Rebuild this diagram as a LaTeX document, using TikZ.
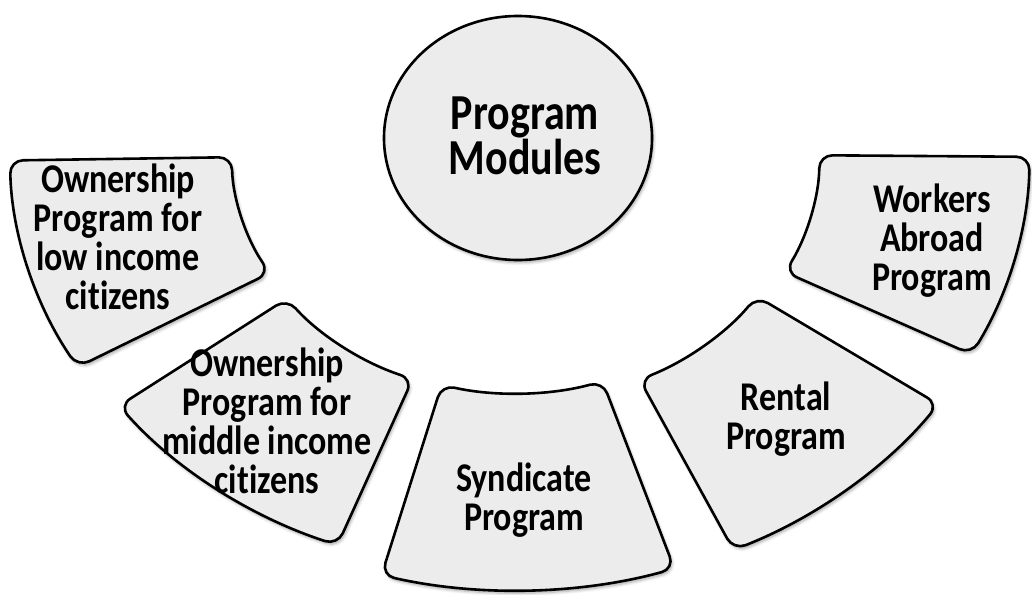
\documentclass[tikz,border=0pt]{standalone}
\usepackage{fontspec}
\setmainfont{Carlito}[Ligatures=NoCommon]
\usetikzlibrary{shadows.blur}
\definecolor{modfill}{RGB}{236,236,236}
\tikzset{
  modshape/.style={draw=black, line width=2.6pt, fill=modfill, rounded corners=13pt,
    blur shadow={shadow xshift=1.5pt, shadow yshift=-2.5pt, shadow blur radius=3pt,
                 shadow blur steps=6, shadow opacity=35}},
  modtext/.style={align=center, inner sep=0pt, yscale=1.2,
                  font=\bfseries\fontsize{34}{32.5}\selectfont},
  titletext/.style={align=center, inner sep=0pt, yscale=1.2,
                    font=\bfseries\fontsize{42}{36.5}\selectfont}
}
% one block of the fan: start angle, end angle, inner radius, outer radius
\newcommand\fanblock[4]{%
  \path[modshape] (#1:#3) arc[start angle=#1, end angle=#2, radius=#3]
    -- (#2:#4) arc[start angle=#2, end angle=#1, radius=#4] -- cycle;}
\begin{document}
\begin{tikzpicture}[x=1pt, y=-1pt]
  \useasboundingbox (0,0) rectangle (1032,594);

  % central module circle
  \path[modshape] (518,138) ellipse [x radius=134, y radius=122];

  % fan of program blocks around the circle
  \begin{scope}[shift={(515,153)}, x=1.18pt]
    \fanblock{150}{179}{240}{428}
    \fanblock{111}{143}{242}{420}
    \fanblock{72}{105}{240}{437}
    \fanblock{35}{65}{250}{438}
    \fanblock{0.5}{27.5}{258}{436}
  \end{scope}

  % labels
  \node[titletext] (title)  at (525,136) {Program\\Modules};
  \node[modtext]   (low)    at (118,236.5) {Ownership\\Program for\\low income\\citizens};
  \node[modtext]   (mid)    at (267,420.5) {Ownership\\Program for\\middle income\\citizens};
  \node[modtext]   (synd)   at (524,500)   {Syndicate\\Program};
  \node[modtext]   (rent)   at (786,419)   {Rental\\Program};
  \node[modtext]   (abroad) at (932,241)   {Workers\\Abroad\\Program};
\end{tikzpicture}
\end{document}
